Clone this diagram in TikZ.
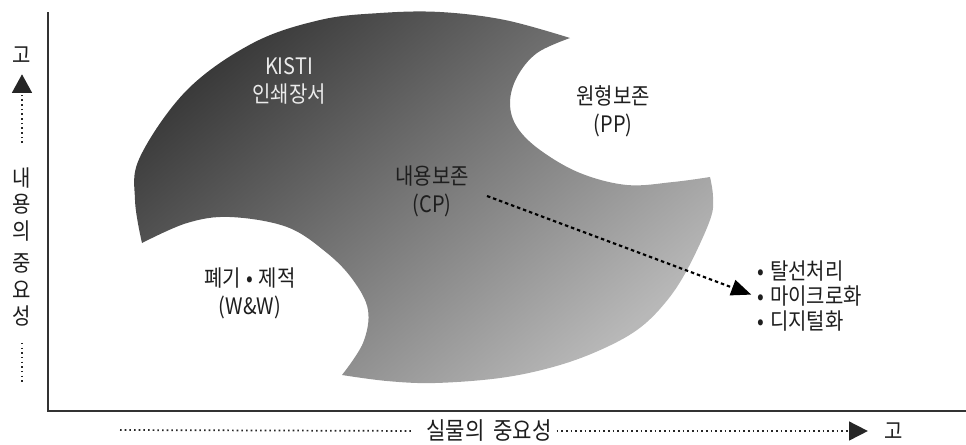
\documentclass[tikz,border=0pt]{standalone}
\usepackage{fontspec}
\setmainfont{Noto Sans CJK KR}[FakeStretch=0.88]
\usetikzlibrary{arrows.meta}
\definecolor{txt}{HTML}{1E1E1E}
\definecolor{blobdark}{HTML}{3A3A3A}
\definecolor{bloblight}{HTML}{B8B8B8}
\begin{document}
\begin{tikzpicture}[x=0.75pt,y=-0.75pt,
  lbl/.style={inner sep=2pt, text=txt, font=\fontsize{17}{21}\selectfont, align=center},
  axisline/.style={line width=1.3pt, draw=black!80},
  axdots/.style={line width=1.3pt, dash pattern=on 1.2pt off 2.3pt, draw=black!85},
  cpdots/.style={line width=1.6pt, dash pattern=on 2.6pt off 2.2pt, draw=black},
  tri/.style={-{Triangle[length=14pt,width=15pt]}}
]
\useasboundingbox (0,0) rectangle (966,444);
% blob
\shade[top color=blobdark, bottom color=bloblight, shading angle=40]
  plot[smooth,tension=0.6] coordinates {(570,38) (505,20) (440,12) (380,13) (320,20) (253,43) (187,90) (140,157) (135,200) (142,243)}
  -- plot[smooth,tension=0.6] coordinates {(142,243) (187,223) (230,217) (287,227) (327,253) (353,280) (368,310) (363,343) (342,375)}
  -- plot[smooth,tension=0.6] coordinates {(342,375) (387,381) (435,383) (500,378) (553,367) (598,351) (637,330) (665,303) (687,270) (710,220) (713,197) (710,177)}
  -- plot[smooth,tension=0.6] coordinates {(710,177) (673,182) (627,185) (580,173) (540,150) (517,127) (510,103) (517,77) (537,53) (570,38)} -- cycle;
% axes
\draw[axisline] (48,12) -- (48,411) -- (966,411);
% labels inside
\node[lbl, text=black!8] (kisti) at (289,81) {KISTI\\인쇄장서};
\node[lbl] (pp) at (613,111) {원형보존\\(PP)};
\node[lbl] (cp) at (432,191) {내용보존\\(CP)};
\node[lbl] (ww) at (250,293) {폐기\hspace{4pt}•\hspace{4pt}제적\\(W\&W)};
\node[lbl, align=left, font=\fontsize{17}{18.5}\selectfont, anchor=west] (list) at (755,296) {•\hspace{4pt}탈선처리\\•\hspace{4pt}마이크로화\\•\hspace{4pt}디지털화};
% CP arrow
\coordinate (arrS) at (487,196);
\draw[cpdots, -{Triangle[length=15pt,width=12pt]}, shorten >=3pt] (arrS) -- (list.west);
% vertical axis label
\node[lbl] (gotop) at (22,55) {고};
\node[lbl, font=\fontsize{17}{20}\selectfont] (vlab) at (22,247) {내\\용\\의\\[4pt]중\\요\\성};
\coordinate (vdot) at (22,143);
\draw[axdots, tri, shorten >=6pt] (vdot) -- (gotop.south);
\coordinate (vend) at (22,383);
\draw[axdots, shorten <=10pt] (vlab.south) -- (vend);
% horizontal axis label
\node[lbl, inner sep=0.5pt, font=\fontsize{18}{21}\selectfont] (hlab) at (489,431) {실물의\hspace{3pt} 중요성};
\node[lbl, inner sep=0.5pt] (goright) at (894,431) {고};
\coordinate (hstart) at (120,430);
\draw[axdots, shorten >=9pt] (hstart) -- (hlab.west);
\draw[axdots, -{Triangle[length=14pt,width=14pt]}, shorten <=3pt, shorten >=12pt] (hlab.east) -- (goright.west);
\end{tikzpicture}
\end{document}
